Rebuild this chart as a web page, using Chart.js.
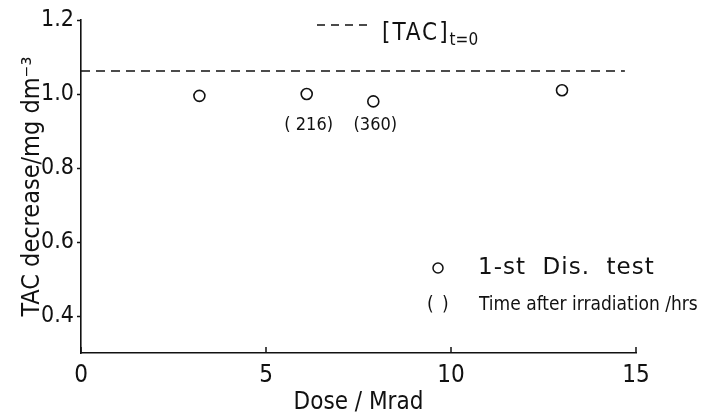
<!DOCTYPE html>
<html>
<head>
<meta charset="utf-8">
<script src="https://cdn.jsdelivr.net/npm/chart.js@4/dist/chart.umd.min.js"></script>
<style>
  html, body { margin: 0; padding: 0; background: #fff; }
  #wrap { width: 704px; height: 420px; }
</style>
</head>
<body>
<div id="wrap"><canvas id="tacChart" width="704" height="420"></canvas></div>
<script>
const doseValues   = [3.2, 6.1, 7.9, 13.0];
const tacDecrease  = [0.995, 1.0, 0.98, 1.01];
const pointNotes   = ['', '( 216)', '(360)', ''];
const initialTac   = 1.062;
const initialDose  = [0, 14.7];
const xTickValues  = [0, 5, 10, 15];
const yTickValues  = [0.4, 0.6, 0.8, 1.0, 1.2];
const yTickLabels  = ['0.4', '0.6', '0.8', '1.0', '1.2'];

const FONT = "'DejaVu Sans Condensed', sans-serif";
const WIDE = "'DejaVu Sans', sans-serif";
const INK = '#111';

// inward ticks on the dose axis
const doseTicks = {
    id: 'doseTicks',
    afterDraw(chart) {
        const ctx = chart.ctx;
        const x = chart.scales.x;
        const bottom = chart.chartArea.bottom;
        ctx.save();
        ctx.strokeStyle = INK;
        ctx.lineWidth = 1.5;
        xTickValues.forEach(v => {
            const px = x.getPixelForValue(v);
            ctx.beginPath();
            ctx.moveTo(px, bottom);
            ctx.lineTo(px, bottom - 6);
            ctx.stroke();
        });
        ctx.restore();
    }
};

// hour labels under the points, on one line like the original
const notes = {
    id: 'notes',
    afterDatasetsDraw(chart) {
        const ctx = chart.ctx;
        const meta = chart.getDatasetMeta(1);
        const yRow = chart.scales.y.getPixelForValue(1.0) + 31;
        ctx.save();
        ctx.fillStyle = INK;
        ctx.font = '18px ' + FONT;
        ctx.textAlign = 'center';
        ctx.textBaseline = 'middle';
        meta.data.forEach((el, i) => {
            if (pointNotes[i]) {
                ctx.fillText(pointNotes[i], el.x + 2, yRow);
            }
        });
        ctx.restore();
    }
};

// hand drawn key like the original figure
const key = {
    id: 'key',
    afterDraw(chart) {
        const ctx = chart.ctx;
        ctx.save();
        ctx.strokeStyle = INK;
        ctx.fillStyle = INK;
        ctx.lineWidth = 1.5;

        ctx.setLineDash([8, 6]);
        ctx.beginPath();
        ctx.moveTo(317, 25);
        ctx.lineTo(370, 25);
        ctx.stroke();
        ctx.setLineDash([]);

        ctx.textBaseline = 'alphabetic';
        ctx.textAlign = 'left';
        ctx.letterSpacing = '2px';
        ctx.font = '24px ' + FONT;
        ctx.fillText('[TAC]', 382, 40);
        const w = ctx.measureText('[TAC]').width;
        ctx.letterSpacing = '0px';
        ctx.font = '17px ' + FONT;
        ctx.fillText('t=0', 382 + w, 45);

        ctx.beginPath();
        ctx.arc(438, 268, 5, 0, Math.PI * 2);
        ctx.stroke();
        ctx.letterSpacing = '1px';
        ctx.font = '23px ' + WIDE;
        ctx.textBaseline = 'middle';
        ctx.fillText('1-st  Dis.  test', 478, 268);
        ctx.letterSpacing = '0px';

        ctx.font = '19px ' + FONT;
        ctx.fillText('(', 427, 305);
        ctx.fillText(')', 442, 305);
        ctx.fillText('Time after irradiation /hrs', 479, 305);
        ctx.restore();
    }
};

new Chart(document.getElementById('tacChart'), {
    type: 'scatter',
    data: {
        datasets: [
            {
                type: 'line',
                label: '[TAC]t=0',
                data: initialDose.map(d => ({ x: d, y: initialTac })),
                borderColor: INK,
                borderWidth: 1.5,
                borderDash: [9, 6],
                pointRadius: 0,
                fill: false
            },
            {
                label: '1-st Dis. test',
                data: doseValues.map((d, i) => ({ x: d, y: tacDecrease[i] })),
                pointStyle: 'circle',
                pointRadius: 5.5,
                borderColor: INK,
                borderWidth: 1.6,
                backgroundColor: '#fff'
            }
        ]
    },
    options: {
        responsive: false,
        animation: false,
        layout: { padding: { top: 20, right: 68, left: 0, bottom: 0 } },
        plugins: {
            legend: { display: false },
            tooltip: { enabled: false }
        },
        scales: {
            x: {
                type: 'linear',
                min: 0,
                max: 15,
                afterBuildTicks: s => { s.ticks = xTickValues.map(v => ({ value: v })); },
                afterFit: s => { s.height = 67; s.paddingLeft = 0; s.paddingRight = 0; },
                grid: { display: true, drawOnChartArea: false, drawTicks: false },
                border: { display: true, color: INK, width: 1.6 },
                ticks: {
                    color: INK,
                    padding: 8,
                    font: { family: FONT, size: 24 }
                },
                title: {
                    display: true,
                    text: 'Dose / Mrad',
                    color: INK,
                    padding: { top: 0, bottom: 3 },
                    font: { family: FONT, size: 24 }
                }
            },
            y: {
                min: 0.3,
                max: 1.2,
                afterBuildTicks: s => { s.ticks = yTickValues.map(v => ({ value: v })); },
                afterFit: s => { s.width = 81; s.paddingTop = 0; s.paddingBottom = 0; },
                grid: { display: true, drawOnChartArea: false, drawTicks: true, tickLength: 4, color: INK, tickWidth: 1.5 },
                border: { display: true, color: INK, width: 1.6 },
                ticks: {
                    color: INK,
                    padding: 3,
                    font: { family: FONT, size: 23 },
                    callback: (v) => {
                        const i = yTickValues.findIndex(t => Math.abs(t - v) < 1e-9);
                        return i >= 0 ? yTickLabels[i] : '';
                    }
                },
                title: {
                    display: true,
                    text: 'TAC decrease/mg dm\u207B\u00B3',
                    color: INK,
                    padding: { top: 17, bottom: 0 },
                    font: { family: FONT, size: 25 }
                }
            }
        }
    },
    plugins: [doseTicks, notes, key]
});
</script>
</body>
</html>
